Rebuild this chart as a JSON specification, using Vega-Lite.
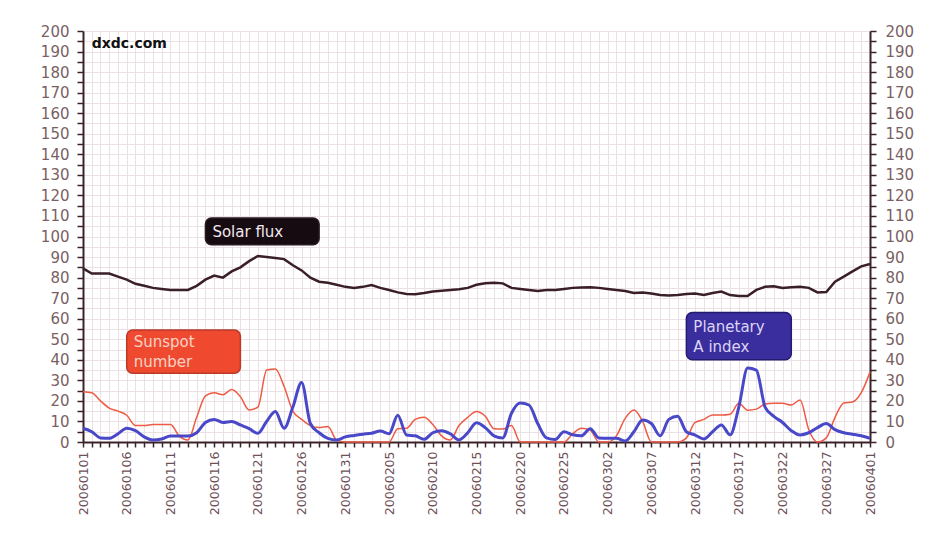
{
  "$schema": "https://vega.github.io/schema/vega-lite/v6.json",
  "width": 787,
  "height": 411,
  "autosize": {"type": "none"},
  "padding": {"left": 83, "top": 31, "right": 64, "bottom": 91},
  "background": "white",
  "config": {
    "view": {"stroke": null},
    "axis": {
      "labelFont": "DejaVu Sans",
      "labelColor": "#7a5f63",
      "domainColor": "#3a2228",
      "tickColor": "#3a2228",
      "domainWidth": 2,
      "tickWidth": 1.5,
      "gridColor": "#ebe1e4",
      "gridWidth": 1
    }
  },
  "datasets": {
    "days": [
      {"d": "20060101", "flux": 84.5, "ssn": 24.5, "ap": 6.7},
      {"d": "20060102", "flux": 82, "ssn": 24, "ap": 5},
      {"d": "20060103", "flux": 82, "ssn": 20, "ap": 2},
      {"d": "20060104", "flux": 82, "ssn": 16.5, "ap": 1.8},
      {"d": "20060105", "flux": 80.5, "ssn": 15, "ap": 4},
      {"d": "20060106", "flux": 79, "ssn": 13, "ap": 6.7},
      {"d": "20060107", "flux": 77, "ssn": 8, "ap": 5.5},
      {"d": "20060108", "flux": 76, "ssn": 8, "ap": 2.5},
      {"d": "20060109", "flux": 75, "ssn": 8.5, "ap": 1},
      {"d": "20060110", "flux": 74.5, "ssn": 8.5, "ap": 1.5},
      {"d": "20060111", "flux": 74, "ssn": 8.5, "ap": 2.9},
      {"d": "20060112", "flux": 74, "ssn": 3, "ap": 2.9},
      {"d": "20060113", "flux": 74, "ssn": 1, "ap": 2.9},
      {"d": "20060114", "flux": 76, "ssn": 12, "ap": 4.5},
      {"d": "20060115", "flux": 79, "ssn": 22.5, "ap": 9.5},
      {"d": "20060116", "flux": 81, "ssn": 24, "ap": 11},
      {"d": "20060117", "flux": 80, "ssn": 23, "ap": 9.5},
      {"d": "20060118", "flux": 83, "ssn": 25.5, "ap": 10},
      {"d": "20060119", "flux": 85, "ssn": 22, "ap": 8.3},
      {"d": "20060120", "flux": 88, "ssn": 15.6, "ap": 6.5},
      {"d": "20060121", "flux": 90.5, "ssn": 17, "ap": 4.2},
      {"d": "20060122", "flux": 90, "ssn": 35, "ap": 10},
      {"d": "20060123", "flux": 89.5, "ssn": 35.5, "ap": 14.8},
      {"d": "20060124", "flux": 89, "ssn": 27, "ap": 6.7},
      {"d": "20060125", "flux": 86, "ssn": 15, "ap": 17},
      {"d": "20060126", "flux": 83.5, "ssn": 11, "ap": 29},
      {"d": "20060127", "flux": 80, "ssn": 8, "ap": 9},
      {"d": "20060128", "flux": 78, "ssn": 7, "ap": 4.5},
      {"d": "20060129", "flux": 77.5, "ssn": 7.5, "ap": 1.8},
      {"d": "20060130", "flux": 76.5, "ssn": 1, "ap": 1},
      {"d": "20060131", "flux": 75.5, "ssn": 0, "ap": 2.5},
      {"d": "20060201", "flux": 75, "ssn": 0, "ap": 3.2},
      {"d": "20060202", "flux": 75.5, "ssn": 0, "ap": 3.8},
      {"d": "20060203", "flux": 76.4, "ssn": 0, "ap": 4.3},
      {"d": "20060204", "flux": 75, "ssn": 0, "ap": 5.3},
      {"d": "20060205", "flux": 74, "ssn": 0, "ap": 4},
      {"d": "20060206", "flux": 72.8, "ssn": 6.5, "ap": 13},
      {"d": "20060207", "flux": 72, "ssn": 6.7, "ap": 3.4},
      {"d": "20060208", "flux": 71.9, "ssn": 11, "ap": 3},
      {"d": "20060209", "flux": 72.5, "ssn": 12, "ap": 1.3},
      {"d": "20060210", "flux": 73.2, "ssn": 8.5, "ap": 4.5},
      {"d": "20060211", "flux": 73.6, "ssn": 3, "ap": 5.5},
      {"d": "20060212", "flux": 74, "ssn": 1, "ap": 4},
      {"d": "20060213", "flux": 74.3, "ssn": 8, "ap": 1},
      {"d": "20060214", "flux": 75, "ssn": 12, "ap": 4.5},
      {"d": "20060215", "flux": 76.5, "ssn": 14.8, "ap": 9.4},
      {"d": "20060216", "flux": 77.3, "ssn": 12.5, "ap": 7},
      {"d": "20060217", "flux": 77.5, "ssn": 6.5, "ap": 3},
      {"d": "20060218", "flux": 77.2, "ssn": 6.3, "ap": 2},
      {"d": "20060219", "flux": 75, "ssn": 8, "ap": 14},
      {"d": "20060220", "flux": 74.5, "ssn": 0, "ap": 19},
      {"d": "20060221", "flux": 74, "ssn": 0, "ap": 18},
      {"d": "20060222", "flux": 73.5, "ssn": 0, "ap": 9},
      {"d": "20060223", "flux": 74, "ssn": 0, "ap": 2},
      {"d": "20060224", "flux": 74, "ssn": 0, "ap": 1.2},
      {"d": "20060225", "flux": 74.5, "ssn": 0, "ap": 5},
      {"d": "20060226", "flux": 75, "ssn": 4, "ap": 3.5},
      {"d": "20060227", "flux": 75.2, "ssn": 6.7, "ap": 3},
      {"d": "20060228", "flux": 75.3, "ssn": 5.8, "ap": 6.5},
      {"d": "20060301", "flux": 75, "ssn": 0, "ap": 2},
      {"d": "20060302", "flux": 74.5, "ssn": 0, "ap": 1.8},
      {"d": "20060303", "flux": 74, "ssn": 3, "ap": 1.8},
      {"d": "20060304", "flux": 73.5, "ssn": 11.5, "ap": 0.5},
      {"d": "20060305", "flux": 72.5, "ssn": 15.6, "ap": 5},
      {"d": "20060306", "flux": 72.8, "ssn": 10, "ap": 10.7},
      {"d": "20060307", "flux": 72.3, "ssn": 0, "ap": 9},
      {"d": "20060308", "flux": 71.5, "ssn": 0, "ap": 3},
      {"d": "20060309", "flux": 71.3, "ssn": 0, "ap": 11},
      {"d": "20060310", "flux": 71.5, "ssn": 0, "ap": 12.5},
      {"d": "20060311", "flux": 72, "ssn": 2, "ap": 5},
      {"d": "20060312", "flux": 72.3, "ssn": 9.5, "ap": 3.4},
      {"d": "20060313", "flux": 71.5, "ssn": 11, "ap": 1.5},
      {"d": "20060314", "flux": 72.5, "ssn": 13.1, "ap": 5},
      {"d": "20060315", "flux": 73.2, "ssn": 13.1, "ap": 8.3},
      {"d": "20060316", "flux": 71.5, "ssn": 13.5, "ap": 3.5},
      {"d": "20060317", "flux": 71, "ssn": 18.8, "ap": 17},
      {"d": "20060318", "flux": 71, "ssn": 15.5, "ap": 36},
      {"d": "20060319", "flux": 74, "ssn": 16, "ap": 35},
      {"d": "20060320", "flux": 75.5, "ssn": 18.5, "ap": 17},
      {"d": "20060321", "flux": 75.8, "ssn": 18.8, "ap": 12.5},
      {"d": "20060322", "flux": 75, "ssn": 18.8, "ap": 9.5},
      {"d": "20060323", "flux": 75.3, "ssn": 18, "ap": 5.5},
      {"d": "20060324", "flux": 75.6, "ssn": 20.4, "ap": 3.4},
      {"d": "20060325", "flux": 75, "ssn": 6, "ap": 4.5},
      {"d": "20060326", "flux": 72.8, "ssn": 0, "ap": 7},
      {"d": "20060327", "flux": 73, "ssn": 2, "ap": 9},
      {"d": "20060328", "flux": 78, "ssn": 12, "ap": 6},
      {"d": "20060329", "flux": 80.5, "ssn": 19, "ap": 4.5},
      {"d": "20060330", "flux": 83, "ssn": 19.5, "ap": 3.8},
      {"d": "20060331", "flux": 85.5, "ssn": 24, "ap": 3},
      {"d": "20060401", "flux": 86.6, "ssn": 34, "ap": 1.8}
    ],
    "boxes": [
      {"s": "Solar flux", "d": "20060115", "d2": "20060128", "y1": 96, "y2": 109},
      {"s": "Sunspot number", "d": "20060106", "d2": "20060119", "y1": 33.5, "y2": 54.5},
      {"s": "Planetary A index", "d": "20060311", "d2": "20060323", "y1": 40, "y2": 63}
    ],
    "notes": [
      {"s": "Solar flux", "t": "Solar flux", "d": "20060115", "v": 102.2},
      {"s": "Sunspot number", "t": "Sunspot", "d": "20060106", "v": 48.8},
      {"s": "Sunspot number", "t": "number", "d": "20060106", "v": 39},
      {"s": "Planetary A index", "t": "Planetary", "d": "20060311", "v": 56},
      {"s": "Planetary A index", "t": "A index", "d": "20060311", "v": 46.2}
    ],
    "brand": [
      {"t": "dxdc.com", "d": "20060102", "v": 193.7}
    ]
  },
  "encoding": {
    "x": {
      "field": "d",
      "type": "ordinal",
      "sort": "ascending",
      "scale": {"type": "point", "padding": 0},
      "axis": {
        "title": null,
        "grid": true,
        "zindex": 0,
        "labelAngle": 270,
        "labelAlign": "right",
        "labelBaseline": "middle",
        "labelFontSize": 12.5,
        "labelColor": "#6e5056",
        "labelPadding": 4,
        "labelOverlap": false,
        "tickSize": 5,
        "labelExpr": "indexof(['20060101','20060106','20060111','20060116','20060121','20060126','20060131','20060205','20060210','20060215','20060220','20060225','20060302','20060307','20060312','20060317','20060322','20060327','20060401'], datum.value) >= 0 ? datum.value : ''"
      }
    }
  },
  "layer": [
    {
      "data": {"name": "boxes"},
      "mark": {"type": "rect", "cornerRadius": 6, "strokeWidth": 1.5},
      "encoding": {
        "x2": {"field": "d2"},
        "y": {"field": "y1", "type": "quantitative", "scale": {"domain": [0, 200]}, "axis": null},
        "y2": {"field": "y2"},
        "fill": {"field": "s", "type": "nominal", "scale": {"domain": ["Solar flux", "Sunspot number", "Planetary A index"], "range": ["#170b12", "#ef4a30", "#3a2e9e"]}, "legend": null},
        "stroke": {"field": "s", "type": "nominal", "scale": {"domain": ["Solar flux", "Sunspot number", "Planetary A index"], "range": ["#2a1a22", "#b83a28", "#241a70"]}, "legend": null}
      }
    },
    {
      "data": {"name": "days"},
      "mark": {"type": "line", "color": "#3a1e2a", "strokeWidth": 2.5},
      "encoding": {
        "y": {
          "field": "flux", "type": "quantitative", "scale": {"domain": [0, 200]},
          "axis": {
            "orient": "left", "title": null, "grid": true, "zindex": 0,
            "values": [0,5,10,15,20,25,30,35,40,45,50,55,60,65,70,75,80,85,90,95,100,105,110,115,120,125,130,135,140,145,150,155,160,165,170,175,180,185,190,195,200],
            "labelExpr": "datum.value % 10 === 0 ? datum.label : ''",
            "labelFontSize": 15, "tickSize": 6, "labelPadding": 8
          }
        }
      }
    },
    {
      "data": {"name": "days"},
      "mark": {"type": "line", "color": "#ee5a44", "strokeWidth": 1.5, "interpolate": "monotone"},
      "encoding": {
        "y": {
          "field": "ssn", "type": "quantitative", "scale": {"domain": [0, 200]},
          "axis": {
            "orient": "right", "title": null, "grid": false, "zindex": 0,
            "values": [0,5,10,15,20,25,30,35,40,45,50,55,60,65,70,75,80,85,90,95,100,105,110,115,120,125,130,135,140,145,150,155,160,165,170,175,180,185,190,195,200],
            "labelExpr": "datum.value % 10 === 0 ? datum.label : ''",
            "labelFontSize": 15, "tickSize": 6, "labelPadding": 9
          }
        }
      }
    },
    {
      "data": {"name": "days"},
      "mark": {"type": "line", "color": "#4848c8", "strokeWidth": 3, "interpolate": "monotone"},
      "encoding": {
        "y": {"field": "ap", "type": "quantitative", "scale": {"domain": [0, 200]}, "axis": null}
      }
    },
    {
      "data": {"name": "notes"},
      "mark": {"type": "text", "align": "left", "baseline": "middle", "font": "DejaVu Sans", "fontSize": 15, "dx": 7},
      "encoding": {
        "y": {"field": "v", "type": "quantitative", "scale": {"domain": [0, 200]}, "axis": null},
        "text": {"field": "t"},
        "color": {"field": "s", "type": "nominal", "scale": {"domain": ["Solar flux", "Sunspot number", "Planetary A index"], "range": ["#f2e8ee", "#fbd2c6", "#dcd4f4"]}, "legend": null}
      }
    },
    {
      "data": {"name": "brand"},
      "mark": {"type": "text", "align": "left", "baseline": "middle", "font": "DejaVu Sans", "fontSize": 14, "fontWeight": "bold", "color": "#111111"},
      "encoding": {
        "y": {"field": "v", "type": "quantitative", "scale": {"domain": [0, 200]}, "axis": null},
        "text": {"field": "t"}
      }
    }
  ],
  "resolve": {"scale": {"y": "independent"}}
}
